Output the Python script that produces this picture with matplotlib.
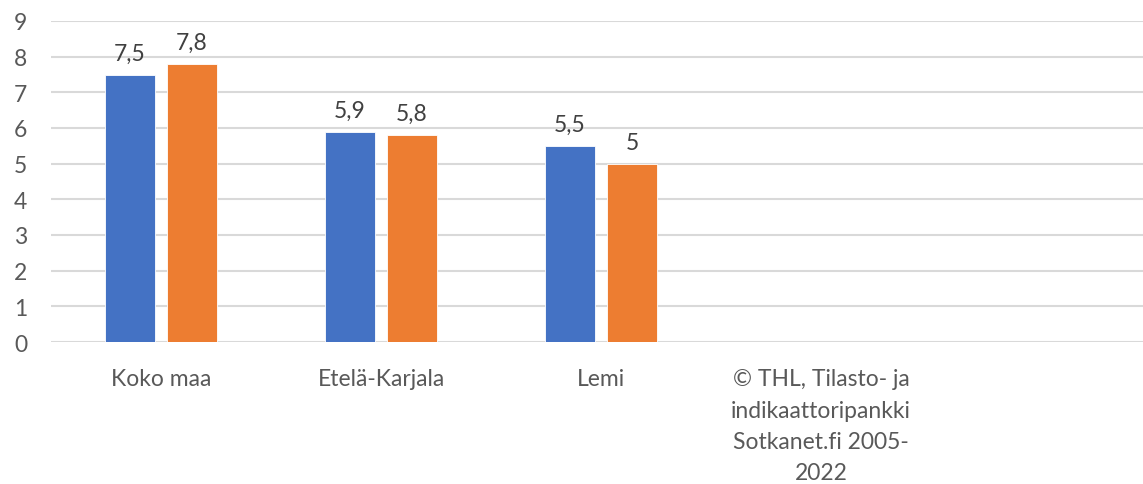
import matplotlib
matplotlib.use('Agg')
from matplotlib import pyplot as plt
import numpy as np

plt.rcParams['font.family'] = ['Lato', 'DejaVu Sans']

categories = ['Koko maa', 'Etelä-Karjala', 'Lemi',
              '© THL, Tilasto- ja\nindikaattoripankki\nSotkanet.fi 2005-\n2022', '']
series1 = [7.5, 5.9, 5.5, np.nan, np.nan]
series2 = [7.8, 5.8, 5.0, np.nan, np.nan]
yticks = [0, 1, 2, 3, 4, 5, 6, 7, 8, 9]

grey = '#595959'
fs = 16.5
fig = plt.figure(figsize=(11.43, 4.85), dpi=100)
ax = fig.add_axes([51/1143, 1 - 343/485, 1100/1143, (343 - 22)/485])

x = np.arange(len(categories))
w = 0.227
off = 0.141
b1 = ax.bar(x - off, series1, w, color='#4472C4', edgecolor='white', linewidth=0.6, zorder=3)
b2 = ax.bar(x + off, series2, w, color='#ED7D31', edgecolor='white', linewidth=0.6, zorder=3)

def fmt(v):
    s = ('%g' % v).replace('.', ',')
    return s

for bars, vals in ((b1, series1), (b2, series2)):
    for rect, v in zip(bars, vals):
        if np.isnan(v):
            continue
        ax.annotate(fmt(v), (rect.get_x() + rect.get_width()/2, v),
                    xytext=(0, 8), textcoords='offset points',
                    ha='center', va='bottom', fontsize=fs, color='#404040')

ax.set_xlim(-0.5, len(categories) - 0.5)
ax.set_ylim(0, 9)
ax.set_yticks(yticks)
ax.set_xticks(x)
ax.set_xticklabels(categories, linespacing=1.6, va='top')
ax.yaxis.grid(True, color='#d9d9d9', linewidth=1.5, zorder=0)
ax.set_axisbelow(True)
for s in ax.spines.values():
    s.set_visible(False)
ax.tick_params(axis='both', length=0, labelsize=fs, colors=grey)
ax.tick_params(axis='y', pad=17)
ax.tick_params(axis='x', pad=19)

fig.savefig('out.png', dpi=100)
